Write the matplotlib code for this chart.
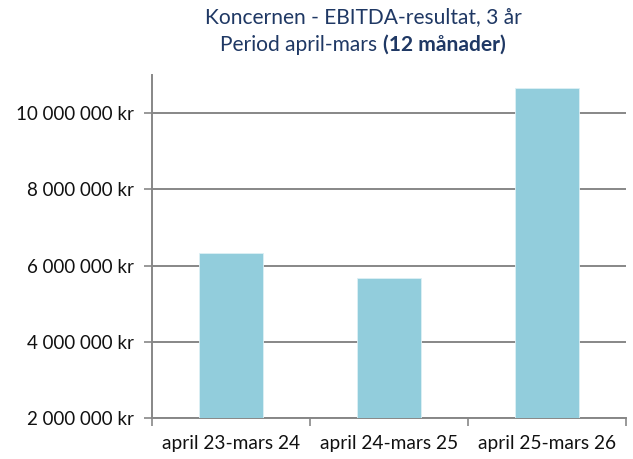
import matplotlib
matplotlib.use("Agg")
import matplotlib.pyplot as plt
from matplotlib.ticker import FuncFormatter, MultipleLocator

categories = ["april 23-mars 24", "april 24-mars 25", "april 25-mars 26"]
values = [6330000, 5670000, 10670000]
title_line1 = "Koncernen - EBITDA-resultat, 3 år"
title_line2_normal = "Period april-mars "
title_line2_bold = "(12 månader)"

FONT = "Lato"
plt.rcParams["font.family"] = [FONT, "DejaVu Sans"]

fig = plt.figure(figsize=(6.33, 4.59), dpi=100)
ax = fig.add_axes([0.240, 0.0887, 0.749, 0.748])

x = list(range(len(categories)))
ax.bar(x, values, width=0.4, color="#92CDDC", edgecolor="#DDF0F5", linewidth=0.6, zorder=3)
ax.set_xlim(-0.5, len(categories) - 0.5)
ax.set_ylim(2000000, 11000000)
ax.yaxis.set_major_locator(MultipleLocator(2000000))

def fmt(v, pos):
    return "{:,.0f} kr".format(v).replace(",", " ")
ax.yaxis.set_major_formatter(FuncFormatter(fmt))

ax.set_xticks([i - 0.5 for i in range(len(categories) + 1)], minor=False)
ax.set_xticklabels([""] * (len(categories) + 1))
ax.set_xticks(x, minor=True)
ax.set_xticklabels(categories, minor=True)
ax.tick_params(axis="x", which="minor", length=0, pad=12, labelsize=13.8, labelcolor="#111111")
ax.tick_params(axis="x", which="major", length=6, width=1.2, color="#878787")
ax.tick_params(axis="y", length=6, width=1.2, color="#878787", labelsize=13.5, pad=7, labelcolor="#111111")

ax.grid(axis="y", color="#878787", linewidth=1.4, zorder=1)
for s in ["top", "right"]:
    ax.spines[s].set_visible(False)
for s in ["left", "bottom"]:
    ax.spines[s].set_color("#878787")
    ax.spines[s].set_linewidth(1.4)

title_color = "#1F3864"
W = fig.get_figwidth() * fig.dpi
cx = 363
fig.text(cx / W, 1 - 17 / 459, title_line1, ha="center", va="center", fontsize=15.1, color=title_color)

fig.canvas.draw()
r = fig.canvas.get_renderer()
t1 = fig.text(0, 1 - 45 / 459, title_line2_normal, ha="left", va="center", fontsize=15.1, color=title_color)
t2 = fig.text(0, 1 - 45 / 459, title_line2_bold, ha="left", va="center", fontsize=15.1, color=title_color, fontweight="bold")
w1 = t1.get_window_extent(r).width
w2 = t2.get_window_extent(r).width
start = cx - (w1 + w2) / 2
t1.set_x(start / W)
t2.set_x((start + w1) / W)

fig.savefig("out.png", dpi=100)
